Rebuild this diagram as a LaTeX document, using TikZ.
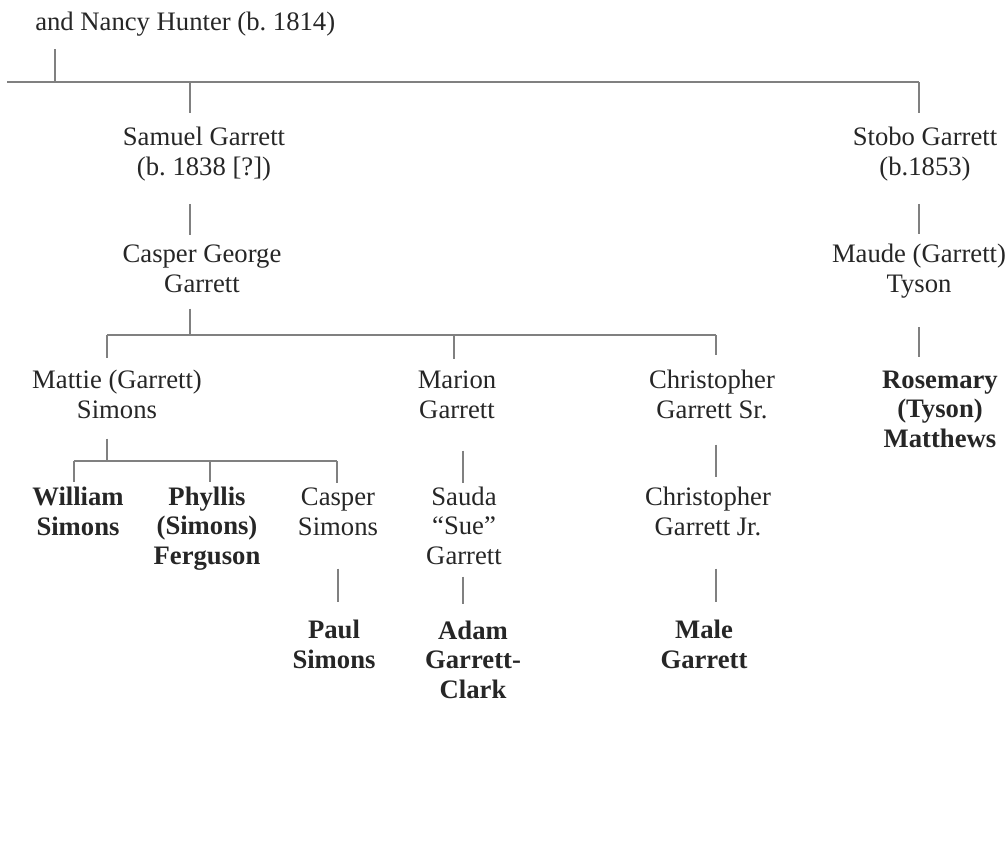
\documentclass[tikz,border=0pt]{standalone}
\usepackage{fontspec}
\setmainfont{Liberation Serif}
\frenchspacing
\tikzset{
  person/.style={inner sep=0pt, align=center, anchor=base, text=black!85,
    font=\fontsize{20}{22}\selectfont},
  heir/.style={person, font=\fontsize{20}{22}\selectfont\bfseries},
  link/.style={draw=black!50, line width=0.8pt},
}
\begin{document}
\begin{tikzpicture}[x=0.75pt,y=-0.75pt]
  \useasboundingbox (0,0) rectangle (1008,851);
  % people (placed at the baseline of their last line)
  \node[person,anchor=base west](root)at(35,30){and Nancy Hunter (b. 1814)};
  \node[person](samuel)at(204,175){Samuel Garrett\\(b. 1838 [?])};
  \node[person](stobo)at(925,175){Stobo Garrett\\(b.1853)};
  \node[person](casper)at(202,292){Casper George\\Garrett};
  \node[person](maude)at(919,292){Maude (Garrett)\\Tyson};
  \node[person](mattie)at(117,418){Mattie (Garrett)\\Simons};
  \node[person](marion)at(457,418){Marion\\Garrett};
  \node[person](chrissr)at(712,418){Christopher\\Garrett Sr.};
  \node[heir](rosemary)at(940,447){Rosemary\\(Tyson)\\Matthews};
  \node[heir](william)at(78,535){William\\Simons};
  \node[heir](phyllis)at(207,564){Phyllis\\(Simons)\\Ferguson};
  \node[person](caspers)at(338,535){Casper\\Simons};
  \node[person](sauda)at(464,564){Sauda\\``Sue''\\Garrett};
  \node[person](chrisjr)at(708,535){Christopher\\Garrett Jr.};
  \node[heir](paul)at(334,668){Paul\\Simons};
  \node[heir](adam)at(473,698){Adam\\Garrett-\\Clark};
  \node[heir](male)at(704,668){Male\\Garrett};
  % bus junctions
  \coordinate(r0)at(55,82);
  \coordinate(rl)at(7,82);
  \coordinate(rsam)at(190,82);
  \coordinate(rsto)at(919,82);
  \coordinate(c0)at(190,335);
  \coordinate(cmat)at(107,335);
  \coordinate(cmar)at(454,335);
  \coordinate(cchr)at(716,335);
  \coordinate(m0)at(107,461);
  \coordinate(mwil)at(74,461);
  \coordinate(mphy)at(210,461);
  \coordinate(mcas)at(337,461);
  \coordinate(xsau)at(463,0);
  \coordinate(xpau)at(338,0);
  % lines
  \draw[link](rl)--(rsto);
  \draw[link,shorten <=9.75pt](root.south -| r0)--(r0);
  \draw[link,shorten >=10.5pt](rsam)--(samuel.north -| rsam);
  \draw[link,shorten >=10.5pt](rsto)--(stobo.north -| rsto);
  \draw[link,shorten <=17.25pt,shorten >=7.5pt](samuel.south -| rsam)--(casper.north -| rsam);
  \draw[link,shorten <=17.25pt,shorten >=7.5pt](stobo.south -| rsto)--(maude.north -| rsto);
  \draw[link,shorten <=12pt](casper.south -| c0)--(c0);
  \draw[link](cmat)--(cchr);
  \draw[link,shorten >=9pt](cmat)--(mattie.north -| cmat);
  \draw[link,shorten >=9pt](cmar)--(marion.north -| cmar);
  \draw[link,shorten >=11.25pt](cchr)--(chrissr.north -| cchr);
  \draw[link,shorten <=21.75pt,shorten >=10.5pt](maude.south -| rsto)--(rosemary.north -| rsto);
  \draw[link,shorten <=15pt](mattie.south -| m0)--(m0);
  \draw[link](mwil)--(mcas);
  \draw[link,shorten >=3.75pt](mwil)--(william.north -| mwil);
  \draw[link,shorten >=3.75pt](mphy)--(phyllis.north -| mphy);
  \draw[link,shorten >=3.75pt](mcas)--(caspers.north -| mcas);
  \draw[link,shorten <=24pt,shorten >=3pt](marion.south -| xsau)--(sauda.north -| xsau);
  \draw[link,shorten <=19.5pt,shorten >=7.5pt](chrissr.south -| cchr)--(chrisjr.north -| cchr);
  \draw[link,shorten <=24.75pt,shorten >=13.5pt](caspers.south -| xpau)--(paul.north -| xpau);
  \draw[link,shorten <=9pt,shorten >=12.75pt](sauda.south -| xsau)--(adam.north -| xsau);
  \draw[link,shorten <=24.75pt,shorten >=13.5pt](chrisjr.south -| cchr)--(male.north -| cchr);
\end{tikzpicture}
\end{document}
